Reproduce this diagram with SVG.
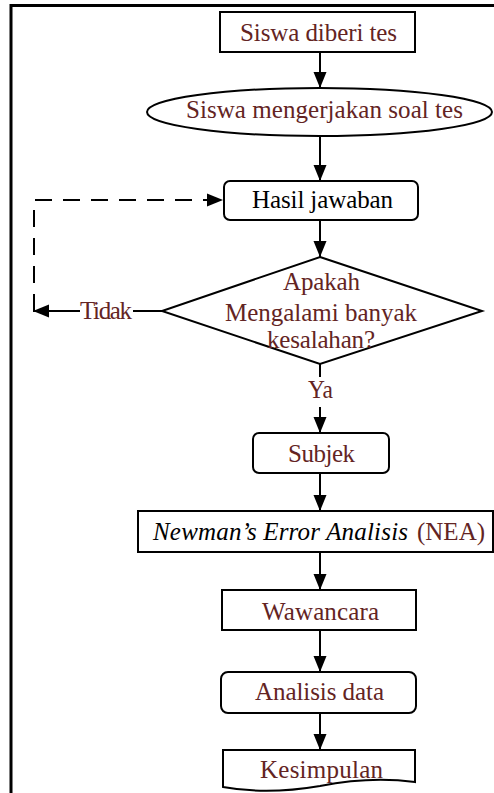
<svg xmlns="http://www.w3.org/2000/svg" width="494" height="793" viewBox="0 0 494 793">
<defs>
<marker id="arr" markerUnits="userSpaceOnUse" markerWidth="16" markerHeight="14" viewBox="0 0 16 13" refX="16" refY="6.5" orient="auto">
<path d="M0,0 L16,6.5 L0,13 Z" fill="#000"/>
</marker>
<style>
.box{fill:#fff;stroke:#000;stroke-width:2}
.t{font-family:"Liberation Serif","Times New Roman",serif;font-size:25px;fill:#632423}
.k{fill:#000}
.ln{fill:none;stroke:#000;stroke-width:2}
.ar{fill:none;stroke:#000;stroke-width:2;marker-end:url(#arr)}
</style>
</defs>
<rect width="494" height="793" fill="#fff"/>
<path d="M11,793 V5.5 H494" fill="none" stroke="#000" stroke-width="3"/>

<g id="connectors">
<line class="ar" x1="320" y1="52" x2="320" y2="88"/>
<line class="ar" x1="320" y1="136" x2="320" y2="181"/>
<line class="ar" x1="320" y1="220" x2="320" y2="257"/>
<line class="ln" x1="320" y1="364" x2="320" y2="377"/>
<line class="ar" x1="320" y1="407" x2="320" y2="433"/>
<line class="ar" x1="320" y1="473" x2="320" y2="511"/>
<line class="ar" x1="320" y1="552" x2="320" y2="590"/>
<line class="ar" x1="320" y1="630" x2="320" y2="672"/>
<line class="ar" x1="320" y1="713" x2="320" y2="750"/>
<line class="ln" x1="162" y1="311" x2="133" y2="311"/>
<line class="ar" x1="80" y1="311" x2="33" y2="311"/>
<path class="ar" d="M34,311 V200 H223" stroke-dasharray="17 11"/>
<text class="t" x="80" y="319" textLength="52">Tidak</text>
<text class="t" x="308" y="398" textLength="25" lengthAdjust="spacingAndGlyphs">Ya</text>
</g>

<g id="n1">
<rect class="box" x="220" y="12" width="195" height="40"/>
<text class="t" x="240" y="41" textLength="157">Siswa diberi tes</text>
</g>
<g id="n2">
<ellipse class="box" cx="319.5" cy="112" rx="172.5" ry="24"/>
<text class="t" x="186" y="118" textLength="277">Siswa mengerjakan soal tes</text>
</g>
<g id="n3">
<rect class="box" x="224" y="181" width="194" height="39" rx="6"/>
<text class="t k" x="252" y="208" textLength="141">Hasil jawaban</text>
</g>
<g id="n4">
<polygon class="box" points="320,257 482,311 320,364 162,311"/>
<text class="t" x="283" y="290" textLength="77">Apakah</text>
<text class="t" x="225" y="321" textLength="192">Mengalami banyak</text>
<text class="t" x="267" y="348" textLength="108">kesalahan?</text>
</g>
<g id="n5">
<rect class="box" x="253" y="433" width="136" height="40" rx="6"/>
<text class="t" x="288" y="462" textLength="67">Subjek</text>
</g>
<g id="n6">
<rect class="box" x="138" y="511" width="355" height="41"/>
<text class="t k" x="153" y="540" textLength="255" font-style="italic">Newman’s Error Analisis</text>
<text class="t" x="417" y="540" textLength="68">(NEA)</text>
</g>
<g id="n7">
<rect class="box" x="222" y="590" width="194" height="40"/>
<text class="t" x="262" y="620" textLength="117">Wawancara</text>
</g>
<g id="n8">
<rect class="box" x="221" y="672" width="195" height="41" rx="7"/>
<text class="t" x="255" y="700" textLength="129">Analisis data</text>
</g>
<g id="n9">
<path class="box" d="M223,750 H415 V782 C385,778 350,780 320,786 C285,792 250,792 223,787 Z"/>
<text class="t" x="260" y="778" textLength="123">Kesimpulan</text>
</g>
</svg>
